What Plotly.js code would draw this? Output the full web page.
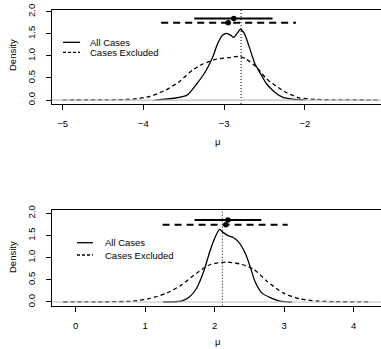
<!DOCTYPE html>
<html><head><meta charset="utf-8">
<script src="https://cdn.plot.ly/plotly-3.0.1.min.js"></script>
<style>html,body{margin:0;padding:0;background:#fff}#c{width:381px;height:349px}</style>
</head><body><div id="c"></div>
<script>
// ---- data ----
const topAllX = [-3.86,-3.62,-3.46,-3.35,-3.22,-3.14,-3.08,-3.02,-2.97,-2.92,-2.88,-2.84,-2.80,-2.75,-2.69,-2.62,-2.54,-2.48,-2.38,-2.27,-2.15,-2.0];
const topAllY = [0,0.04,0.11,0.34,0.68,0.98,1.28,1.47,1.51,1.47,1.42,1.51,1.60,1.51,1.21,0.83,0.57,0.38,0.19,0.06,0.02,0];
const topExclX = [-5.0,-4.5,-4.13,-3.92,-3.72,-3.56,-3.39,-3.27,-3.11,-2.94,-2.81,-2.73,-2.60,-2.48,-2.36,-2.23,-2.07,-1.86,-1.66,-1.25,-1.1];
const topExclY = [0,0.003,0.02,0.08,0.23,0.41,0.68,0.81,0.92,0.96,0.99,0.93,0.75,0.49,0.32,0.17,0.05,0.015,0.005,0,0];
const topCIAll = [-3.37,-2.40], topPtAll = -2.88, topLevAll = 1.85;
const topCIExcl = [-3.78,-2.11], topPtExcl = -2.95, topLevExcl = 1.75;
const topRef = -2.79;
const topTicks = [-5,-4,-3,-2];

const botAllX = [1.26,1.52,1.64,1.74,1.84,1.93,2.0,2.07,2.12,2.20,2.27,2.34,2.44,2.51,2.58,2.68,2.80,2.94,3.11];
const botAllY = [0,0.02,0.12,0.31,0.68,1.14,1.44,1.64,1.57,1.49,1.45,1.36,1.10,0.80,0.46,0.20,0.10,0.02,0];
const botExclX = [-0.18,0.4,0.83,1.07,1.31,1.52,1.74,1.93,2.17,2.36,2.56,2.75,2.99,3.23,3.47,3.71,4.24];
const botExclY = [0,0.003,0.02,0.08,0.20,0.38,0.65,0.84,0.90,0.86,0.74,0.47,0.20,0.07,0.02,0.008,0];
const botCIAll = [1.71,2.67], botPtAll = 2.19, botLevAll = 1.85;
const botCIExcl = [1.25,3.05], botPtExcl = 2.16, botLevExcl = 1.74;
const botRef = 2.11;
const botTicks = [0,1,2,3,4];
const yTicks = [0,0.5,1,1.5,2];
const yTickText = ['0.0','0.5','1.0','1.5','2.0'];
const legendNames = ['All Cases','Cases Excluded'];
const xTitle = '\u03bc', yTitle = 'Density';

// ---- layout helpers (pixel -> paper) ----
const W=381,H=349,L=52;
const px = x => (x-L)/(W-L);
const py = y => 1 - y/H;
const FONT = 'Liberation Sans, Arial, sans-serif';
const TF = {family:FONT,size:9.5,color:'#000'};

function panel(xa, ya, ax, ay, eX, eY, ciA, ptA, levA, ciE, ptE, levE) {
  return [
    {x:ax, y:ay, xaxis:xa, yaxis:ya, mode:'lines', line:{color:'#000', width:1.3, shape:'spline', smoothing:0.6}},
    {x:eX, y:eY, xaxis:xa, yaxis:ya, mode:'lines', line:{color:'#000', width:1.3, dash:'4px,3px', shape:'spline', smoothing:0.6}},
    {x:ciA, y:[levA,levA], xaxis:xa, yaxis:ya, mode:'lines', line:{color:'#000', width:2}},
    {x:ciE, y:[levE,levE], xaxis:xa, yaxis:ya, mode:'lines', line:{color:'#000', width:2, dash:'7px,5px'}},
    {x:[ptA,ptE], y:[levA,levE], xaxis:xa, yaxis:ya, mode:'markers', marker:{color:'#000', size:5.5}}
  ];
}

const data = [].concat(
  panel('x','y', topAllX, topAllY, topExclX, topExclY, topCIAll, topPtAll, topLevAll, topCIExcl, topPtExcl, topLevExcl),
  panel('x2','y2', botAllX, botAllY, botExclX, botExclY, botCIAll, botPtAll, botLevAll, botCIExcl, botPtExcl, botLevExcl)
);

function xax(range, ticks, anchor) {
  return {range:range, tickvals:ticks, ticktext:ticks.map(v=>v<0?'\u2212'+(-v):String(v)),
    domain:[0,1], anchor:anchor, showgrid:false, zeroline:false, showline:true, mirror:true,
    linecolor:'#000', linewidth:1, ticks:'outside', ticklen:5, tickcolor:'#000',
    tickfont:TF, automargin:false, ticklabelstandoff:6};
}
function yax(range, domain, anchor) {
  return {range:range, domain:domain, anchor:anchor, tickvals:yTicks, ticktext:yTickText,
    tickangle:-90, showgrid:false, zeroline:false, showline:true, mirror:false,
    linecolor:'#000', linewidth:1, ticks:'outside', ticklen:5, tickcolor:'#000',
    tickfont:TF, automargin:false, ticklabelstandoff:7};
}

const topDom=[py(104),py(10)], botDom=[py(305.7),py(210)];
const shapes=[], annotations=[];
[['x','y',topRef],['x2','y2',botRef]].forEach(([xa,ya,ref])=>{
  shapes.push({type:'line', xref:xa, yref:ya+' domain', x0:ref, x1:ref, y0:0, y1:1, line:{color:'#000', width:1, dash:'1px,2px'}, layer:'above'});
  shapes.push({type:'line', xref:'paper', yref:ya, x0:0, x1:1, y0:0, y1:0, line:{color:'#bdbdbd', width:1.2}, layer:'above'});
});
// axis titles
[[149,55],[349,257]].forEach(([xt,yt])=>{
  annotations.push({xref:'paper', yref:'paper', x:px(217), y:py(xt), text:xTitle, showarrow:false, xanchor:'center', yanchor:'bottom', font:TF});
  annotations.push({xref:'paper', yref:'paper', x:px(12), y:py(yt), text:yTitle, showarrow:false, textangle:-90, xanchor:'center', yanchor:'middle', font:TF});
});
// legends
[[42.3,52.3,63,80,88],[242.7,255,77,93,103]].forEach(([l1,l2,xa,xb,xt])=>{
  shapes.push({type:'line', xref:'paper', yref:'paper', x0:px(xa), x1:px(xb), y0:py(l1), y1:py(l1), line:{color:'#000', width:1.3}});
  shapes.push({type:'line', xref:'paper', yref:'paper', x0:px(xa), x1:px(xb), y0:py(l2), y1:py(l2), line:{color:'#000', width:1.3, dash:'3px,2px'}});
  annotations.push({xref:'paper', yref:'paper', x:px(xt), y:py(l1), text:legendNames[0], showarrow:false, xanchor:'left', yanchor:'middle', font:TF});
  annotations.push({xref:'paper', yref:'paper', x:px(xt), y:py(l2), text:legendNames[1], showarrow:false, xanchor:'left', yanchor:'middle', font:TF});
});

const layout = {
  width:W, height:H, margin:{l:L, r:0, t:0, b:0}, showlegend:false,
  paper_bgcolor:'#fff', plot_bgcolor:'#fff',
  xaxis: xax([-5.133,-1.056], topTicks, 'y'),
  yaxis: yax([-0.09,2.04], topDom, 'x'),
  xaxis2: xax([-0.341,4.393], botTicks, 'y2'),
  yaxis2: yax([-0.084,2.075], botDom, 'x2'),
  shapes:shapes, annotations:annotations
};
Plotly.newPlot('c', data, layout, {staticPlot:true, displayModeBar:false});
</script></body></html>
